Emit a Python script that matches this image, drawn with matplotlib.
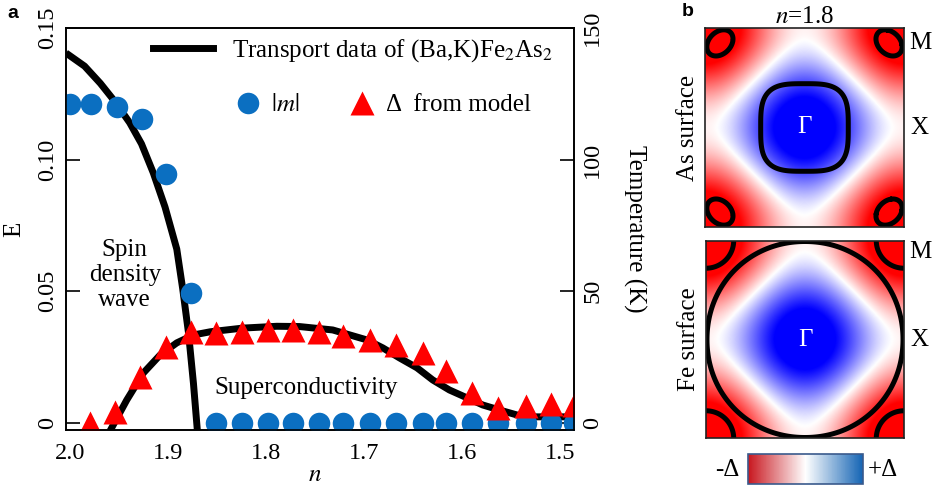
import numpy as np
import matplotlib.pyplot as plt
from matplotlib.colors import LinearSegmentedColormap, Normalize
from matplotlib.lines import Line2D

plt.rcParams['font.family'] = ['Liberation Serif', 'DejaVu Serif']
plt.rcParams['mathtext.fontset'] = 'stix'
plt.rcParams['font.size'] = 18

# --- panel a data ---
# |m| from model, E units
n_m = [2.0, 1.978, 1.952, 1.926, 1.902, 1.876, 1.851, 1.824, 1.798, 1.773, 1.746,
       1.722, 1.694, 1.667, 1.640, 1.616, 1.590, 1.563, 1.535, 1.509, 1.486]
m_abs = [0.121, 0.121, 0.120, 0.1155, 0.0946, 0.0494, 0, 0, 0, 0, 0,
         0, 0, 0, 0, 0, 0, 0, 0, 0, 0]

# Delta from model, E units
n_d = [1.980, 1.954, 1.928, 1.902, 1.876, 1.851, 1.824, 1.798, 1.773, 1.746,
       1.722, 1.694, 1.667, 1.640, 1.616, 1.590, 1.563, 1.535, 1.509, 1.486]
delta = [0.0, 0.0042, 0.0175, 0.0289, 0.0346, 0.0342, 0.0346, 0.0353, 0.0353, 0.0346,
         0.0330, 0.0315, 0.0296, 0.0266, 0.0197, 0.0114, 0.0057, 0.0065, 0.0072, 0.0068]

# transport data (K): SDW boundary and SC dome
n_sdw = [2.004, 1.985, 1.969, 1.954, 1.939, 1.927, 1.915, 1.903, 1.891, 1.885, 1.879, 1.874, 1.870]
T_sdw = [140.5, 135.5, 129, 122, 114, 106, 95, 82, 66, 51, 34, 15, -3]
n_sc = [1.959, 1.942, 1.925, 1.908, 1.891, 1.874, 1.857, 1.824, 1.789, 1.766, 1.732,
        1.697, 1.681, 1.664, 1.646, 1.630, 1.613, 1.595, 1.579, 1.562, 1.544, 1.528, 1.486]
T_sc = [-3, 8.7, 19, 25.8, 30.4, 33.4, 34.6, 36, 36.7, 36.6, 35.3,
        31.5, 28.5, 24.7, 20.9, 16.3, 12.5, 9.5, 6.8, 4.9, 3.0, 2.3, 2.3]

x_ticks = [2.0, 1.9, 1.8, 1.7, 1.6, 1.5]
x_ticklabels = ['2.0', '1.9', '1.8', '1.7', '1.6', '1.5']
e_ticks = [0, 0.05, 0.10, 0.15]
e_ticklabels = ['0', '0.05', '0.10', '0.15']
t_ticks = [0, 50, 100, 150]
t_ticklabels = ['0', '50', '100', '150']

# --- panel b model parameters (in units of pi) ---
gap_shift = 0.07
as_gamma = (0.44, 3.4)          # radius, superellipse power
as_corner = (0.85, 0.15, 0.11)  # centre, half-axis across / along diagonal
fe_gamma = (0.99, 2.05)
fe_corner = 0.28

blue = '#0b6fc1'
red = '#ff0000'

fig = plt.figure(figsize=(9.33, 4.97), dpi=100)

ax = fig.add_axes([0.0707, 0.1348, 0.5445, 0.8089])
ax2 = ax.twinx()
ax.set_zorder(ax2.get_zorder() + 1)
ax.patch.set_visible(False)

ax2.plot(n_sdw, T_sdw, color='k', lw=5, solid_joinstyle='round', solid_capstyle='butt')
ax2.plot(n_sc, T_sc, color='k', lw=5, solid_joinstyle='round', solid_capstyle='butt')
ax.plot(n_m, m_abs, ls='none', marker='o', ms=15.5, color=blue, mec='none')
ax.plot(n_d, delta, ls='none', marker='^', ms=17, color=red, mec='none')

ax.set_xlim(2.004, 1.486)
ax.set_ylim(-0.0027, 0.15)
ax2.set_ylim(-2.7, 150)
ax.set_xticks(x_ticks)
ax.set_xticklabels(x_ticklabels)
ax.set_yticks(e_ticks)
ax.set_yticklabels(e_ticklabels, rotation=90, va='center')
ax2.set_yticks(t_ticks)
ax2.set_yticklabels(t_ticklabels, rotation=90, va='center')
ax.tick_params(axis='x', length=0, pad=9, labelsize=17.5)
ax.tick_params(axis='y', direction='in', length=10, width=1.2, pad=6, labelsize=17.5)
ax2.tick_params(axis='y', direction='in', length=10, width=1.2, pad=6, labelsize=17.5)
for a in (ax, ax2):
    for s in a.spines.values():
        s.set_linewidth(1.2)

ax.set_ylabel('E')
ax.yaxis.set_label_coords(-0.08, 0.5)
ax.set_xlabel('$n$')
ax.xaxis.set_label_coords(0.49, -0.085)
ax2.set_ylabel('Temperature (K)', rotation=-90, va='bottom')
ax2.yaxis.set_label_coords(1.097, 0.5)

ax.text(1.944, 0.0562, 'Spin\ndensity\nwave', ha='center', va='center', linespacing=1.2)
ax.text(1.759, 0.0133, 'Superconductivity', ha='center', va='center')

h_line = Line2D([], [], color='k', lw=5)
leg1 = ax.legend([h_line], ['Transport data of (Ba,K)Fe$_2$As$_2$'], loc='center left',
                 bbox_to_anchor=(0.171, 0.943), frameon=False, handlelength=2.4,
                 handletextpad=0.76, borderpad=0, borderaxespad=0, fontsize=18)
ax.add_artist(leg1)
h_c = Line2D([], [], ls='none', marker='o', color=blue, ms=15.5, mec='none')
h_t = Line2D([], [], ls='none', marker='^', color=red, ms=17, mec='none')
ax.legend([h_c, h_t], ['$|m|$', '\u0394  from model'], ncol=2, loc='center left',
          bbox_to_anchor=(0.333, 0.808), frameon=False, handlelength=1.0,
          handletextpad=0.45, columnspacing=2.0, borderpad=0, borderaxespad=0, fontsize=18)

fig.text(13 / 933, 1 - 13 / 497, 'a', family='Liberation Sans', weight='bold', fontsize=14,
         ha='center', va='center')

# --- panel b ---
k = np.linspace(-np.pi, np.pi, 401)
KX, KY = np.meshgrid(k, k)
AX, AY = np.abs(KX) / np.pi, np.abs(KY) / np.pi
gap = np.cos(KX) + np.cos(KY) - gap_shift

r, p = as_gamma
as_g = (AX / r) ** p + (AY / r) ** p
c, a_, b_ = as_corner
u = ((AX - c) + (AY - c)) / np.sqrt(2)
v = (AX - AY) / np.sqrt(2)
as_m = (u / b_) ** 2 + (v / a_) ** 2

r2, p2 = fe_gamma
fe_g = (AX / r2) ** p2 + (AY / r2) ** p2
fe_m = ((1 - AX) ** 2 + (1 - AY) ** 2) / fe_corner ** 2

panels = [
    ([0.7556, 0.5433, 0.2133, 0.4004], 'As surface', [as_g, as_m], (0.925, 0.497)),
    ([0.7567, 0.1167, 0.2122, 0.4004], 'Fe surface', [fe_g, fe_m], (0.94, 0.497)),
]
for i, (rect, lab, fs, (my, xy)) in enumerate(panels):
    axb = fig.add_axes(rect)
    axb.imshow(gap, extent=[-np.pi, np.pi, -np.pi, np.pi], origin='lower', cmap='bwr_r',
               vmin=-1.5, vmax=1.5, interpolation='bilinear')
    for f in fs:
        axb.contour(KX, KY, f, levels=[1], colors='k', linewidths=3.6)
    axb.set_xlim(-np.pi, np.pi)
    axb.set_ylim(-np.pi, np.pi)
    axb.set_xticks([])
    axb.set_yticks([])
    for s in axb.spines.values():
        s.set_linewidth(1.2)
        s.set_color('#222222')
    axb.set_ylabel(lab, fontsize=18, labelpad=4)
    axb.text(0, 0, '\u0393', color='white', ha='center', va='center', fontsize=18)
    axb.text(1.085, my, 'M', transform=axb.transAxes, ha='center', va='center', fontsize=18)
    axb.text(1.08, xy, 'X', transform=axb.transAxes, ha='center', va='center', fontsize=18)
    if i == 0:
        axb.set_title('$n$=1.8', fontsize=18, pad=3)

fig.text(688 / 933, 1 - 12 / 497, 'b', family='Liberation Sans', weight='bold', fontsize=14,
         ha='center', va='center')

cb_cmap = LinearSegmentedColormap.from_list('cb', ['#c8161e', '#ffffff', '#1464b4'])
cax = fig.add_axes([0.8017, 0.0262, 0.1233, 0.0604])
sm = plt.cm.ScalarMappable(norm=Normalize(-1, 1), cmap=cb_cmap)
cb = fig.colorbar(sm, cax=cax, orientation='horizontal')
cb.set_ticks([])
cb.outline.set_edgecolor('#3a5a8c')
cb.outline.set_linewidth(1.2)
fig.text(727 / 933, 1 - 470 / 497, '-\u0394', ha='center', va='center', fontsize=18)
fig.text(883 / 933, 1 - 470 / 497, '+\u0394', ha='center', va='center', fontsize=18)

fig.savefig('out.png', dpi=100)
